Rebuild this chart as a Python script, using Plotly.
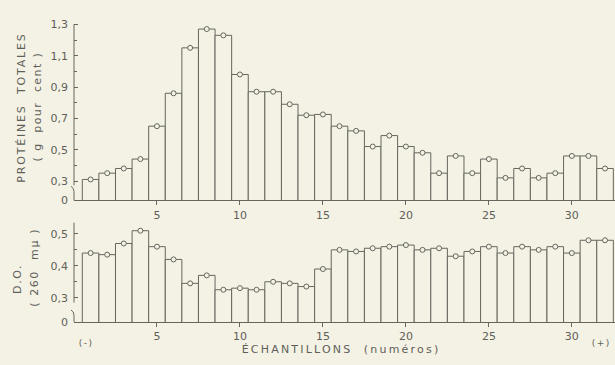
import plotly.graph_objects as go

# ---------------- data ----------------
samples = list(range(1, 33))
proteines = [0.31, 0.35, 0.38, 0.44, 0.65, 0.86, 1.15, 1.27, 1.23, 0.98,
             0.87, 0.87, 0.79, 0.72, 0.725, 0.65, 0.62, 0.52, 0.59, 0.52,
             0.48, 0.35, 0.46, 0.35, 0.44, 0.32, 0.38, 0.32, 0.35, 0.46,
             0.46, 0.38]
do260 = [0.44, 0.435, 0.47, 0.51, 0.46, 0.42, 0.345, 0.37, 0.325, 0.33,
         0.325, 0.35, 0.345, 0.335, 0.39, 0.45, 0.445, 0.455, 0.46, 0.465,
         0.45, 0.455, 0.43, 0.445, 0.46, 0.44, 0.46, 0.45, 0.46, 0.44,
         0.48, 0.48]

x_ticks = [5, 10, 15, 20, 25, 30]
top_ticks = [0.3, 0.5, 0.7, 0.9, 1.1, 1.3]
top_labels = ["0,3", "0,5", "0,7", "0,9", "1,1", "1,3"]
top_minor = [0.4, 0.6, 0.8, 1.0, 1.2]
bot_ticks = [0.3, 0.4, 0.5]
bot_labels = ["0,3", "0,4", "0,5"]
bot_minor = [0.35, 0.45]

# ---------------- style ----------------
W, H = 615, 365
L, R = 74, 0
BG = "#f4f2e5"
LC = "#66665f"
TC = "#5f5f5a"
FONT = "DejaVu Sans"

top_break = 0.1765     # axis value where the broken axis shows "0"
top_max = 1.31
bot_break = 0.2242
bot_max = 0.535
top_dom = [0.4466, 0.9496]
bot_dom = [0.1022, 0.3832]
x_range = [0, 32.6]

fig = go.Figure()

for vals, xa, ya in [(proteines, "x", "y"), (do260, "x2", "y2")]:
    fig.add_trace(go.Bar(
        x=samples, y=vals, width=1, xaxis=xa, yaxis=ya,
        marker=dict(color=BG, line=dict(color=LC, width=1)),
        showlegend=False, hoverinfo="skip"))
    fig.add_trace(go.Scatter(
        x=samples, y=vals, mode="markers", xaxis=xa, yaxis=ya,
        marker=dict(symbol="circle", size=5, color=BG,
                    line=dict(color=LC, width=1)),
        cliponaxis=False, showlegend=False, hoverinfo="skip"))

axis_font = dict(family=FONT, size=11, color=TC)

def xaxis_cfg(anchor):
    return dict(range=x_range, domain=[0, 1], anchor=anchor,
                showline=True, linecolor=LC, linewidth=1,
                ticks="outside", ticklen=4, tickcolor=LC,
                tickvals=x_ticks, ticktext=[str(v) for v in x_ticks],
                tickfont=axis_font, showgrid=False, zeroline=False,
                fixedrange=True)

def yaxis_cfg(anchor, rng, dom, tv, tt, minor):
    return dict(range=rng, domain=dom, anchor=anchor,
                showline=False, ticks="inside", ticklen=4, tickcolor=LC,
                tickvals=tv, ticktext=tt, tickfont=axis_font,
                ticklabelstandoff=5,
                minor=dict(tickvals=minor, ticks="inside", ticklen=3,
                           tickcolor=LC),
                showgrid=False, zeroline=False, fixedrange=True)

fig.update_layout(
    width=W, height=H,
    margin=dict(l=L, r=R, t=0, b=0, pad=0),
    paper_bgcolor=BG, plot_bgcolor=BG,
    bargap=0,
    xaxis=xaxis_cfg("y"),
    xaxis2=xaxis_cfg("y2"),
    yaxis=yaxis_cfg("x", [top_break, top_max], top_dom,
                    [top_break] + top_ticks, ["0"] + top_labels, top_minor),
    yaxis2=yaxis_cfg("x2", [bot_break, bot_max], bot_dom,
                     [bot_break] + bot_ticks, ["0"] + bot_labels, bot_minor),
)

PW = W - L - R

def px2paper_x(px):
    return (px - L) / PW

def px2paper_y(py):
    return 1 - py / H

def val2paper(v, rng, dom):
    return dom[0] + (v - rng[0]) / (rng[1] - rng[0]) * (dom[1] - dom[0])

# broken y-axes (decoration)
shapes = []
for rng, dom, top_val, gap_val, mid_val in [
        ([top_break, top_max], top_dom, 1.3, 0.272, 0.232),
        ([bot_break, bot_max], bot_dom, bot_max, 0.285, 0.245)]:
    y_top = val2paper(top_val, rng, dom)
    y_gap = val2paper(gap_val, rng, dom)
    y_base = dom[0]
    y_mid = val2paper(mid_val, rng, dom)
    shapes.append(dict(type="line", xref="paper", yref="paper",
                       x0=0, x1=0, y0=y_gap, y1=y_top,
                       line=dict(color=LC, width=1)))
    dx = 3 / PW
    y_end = y_mid + 4 / H
    shapes.append(dict(type="path", xref="paper", yref="paper",
                       path=f"M 0 {y_base} L 0 {y_mid} Q 0 {y_end} {-dx} {y_end + 1.5 / H}",
                       line=dict(color=LC, width=1)))
fig.update_layout(shapes=shapes)

title_font = dict(family=FONT, size=11, color=TC)
small_font = dict(family=FONT, size=9, color=TC)
# text, x px, y px, angle, font, letter spacing (px)
annots = [
    ("PROTÉINES  TOTALES", 22, 106, -90, title_font, 1.8),
    ("( g  pour  cent )", 38, 105, -90, title_font, 1.4),
    ("D.O.", 18, 283, -90, title_font, 1.6),
    ("( 260  mμ )", 34, 272, -90, title_font, 1.6),
    ("ÉCHANTILLONS  (numéros)", 341, 356, 0, title_font, 2.2),
    ("(-)", 86, 350, 0, small_font, 1.5),
    ("(+)", 601, 349, 0, small_font, 1.5),
]
for text, px, py, ang, fnt, _sp in annots:
    fig.add_annotation(text=text, xref="paper", yref="paper",
                       x=px2paper_x(px), y=px2paper_y(py),
                       xanchor="center", yanchor="middle",
                       textangle=ang, showarrow=False, font=fnt)

spacings = "[" + ",".join(str(a[5]) for a in annots) + "]"
post = """
document.body.style.margin = '0';
document.body.style.overflow = 'hidden';
var sp = %s;
document.querySelectorAll('.annotation-text').forEach(function(t, i){
  t.style.letterSpacing = sp[i] + 'px';
});
""" % spacings
fig.write_html("out.html", post_script=post,
               config={"displayModeBar": False, "staticPlot": True})
